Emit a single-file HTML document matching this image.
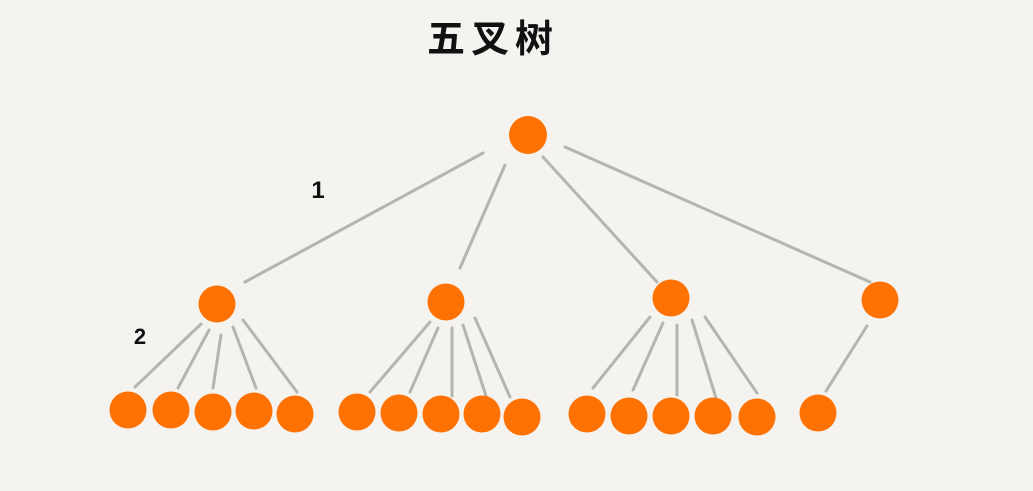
<!DOCTYPE html>
<html><head><meta charset="utf-8"><style>
html,body{margin:0;padding:0;background:#f4f3ef;}
svg{display:block;}
</style></head><body>
<svg width="1033" height="491" viewBox="0 0 1033 491" xmlns="http://www.w3.org/2000/svg">
<rect width="1033" height="491" fill="#f4f3ef"/>
<text x="493" y="52" text-anchor="middle" font-family="'Liberation Sans','Noto Sans CJK SC',sans-serif" font-size="38" font-weight="bold" letter-spacing="6" fill="#111">五叉树</text>
<text x="318" y="198" text-anchor="middle" font-family="'Liberation Sans',sans-serif" font-size="24" font-weight="bold" fill="#111">1</text>
<text x="140" y="344" text-anchor="middle" font-family="'Liberation Sans',sans-serif" font-size="22" font-weight="bold" fill="#111">2</text>
<g stroke="#b5b5b0" stroke-width="3" stroke-linecap="round">
<line x1="483" y1="153" x2="245" y2="282"/>
<line x1="505" y1="165" x2="460" y2="268"/>
<line x1="543" y1="157" x2="657" y2="282"/>
<line x1="565" y1="147" x2="870" y2="282"/>
<line x1="201" y1="324" x2="135" y2="387"/>
<line x1="209" y1="330" x2="178" y2="388"/>
<line x1="221" y1="335" x2="213" y2="388"/>
<line x1="233" y1="327" x2="256" y2="388"/>
<line x1="243" y1="320" x2="297" y2="392"/>
<line x1="430" y1="322" x2="370" y2="392"/>
<line x1="438" y1="328" x2="410" y2="392"/>
<line x1="452" y1="328" x2="452" y2="396"/>
<line x1="463" y1="325" x2="486" y2="396"/>
<line x1="475" y1="318" x2="510" y2="397"/>
<line x1="650" y1="317" x2="593" y2="388"/>
<line x1="663" y1="323" x2="633" y2="390"/>
<line x1="677" y1="325" x2="677" y2="395"/>
<line x1="692" y1="320" x2="716" y2="398"/>
<line x1="705" y1="317" x2="757" y2="393"/>
<line x1="867" y1="326" x2="826" y2="391"/>
</g>
<g fill="#fe7103">
<circle cx="528" cy="135" r="19"/>
<circle cx="217" cy="304" r="18.5"/>
<circle cx="446" cy="302" r="18.5"/>
<circle cx="671" cy="298" r="18.5"/>
<circle cx="880" cy="300" r="18.5"/>
<circle cx="128" cy="410" r="18.5"/>
<circle cx="171" cy="410" r="18.5"/>
<circle cx="213" cy="412" r="18.5"/>
<circle cx="254" cy="411" r="18.5"/>
<circle cx="295" cy="414" r="18.5"/>
<circle cx="357" cy="412" r="18.5"/>
<circle cx="399" cy="413" r="18.5"/>
<circle cx="441" cy="414" r="18.5"/>
<circle cx="482" cy="414" r="18.5"/>
<circle cx="522" cy="417" r="18.5"/>
<circle cx="587" cy="414" r="18.5"/>
<circle cx="629" cy="416" r="18.5"/>
<circle cx="671" cy="416" r="18.5"/>
<circle cx="713" cy="416" r="18.5"/>
<circle cx="757" cy="417" r="18.5"/>
<circle cx="818" cy="413" r="18.5"/>
</g>
</svg>
</body></html>
